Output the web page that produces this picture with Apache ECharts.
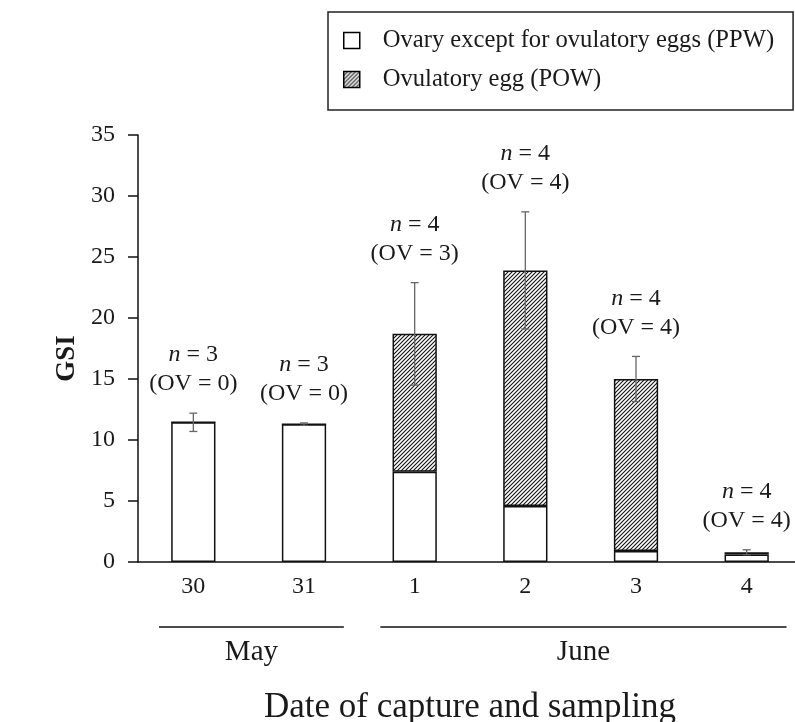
<!DOCTYPE html>
<html>
<head>
<meta charset="utf-8">
<script src="https://cdn.jsdelivr.net/npm/echarts@6/dist/echarts.min.js"></script>
<style>
html,body{margin:0;padding:0;background:#fff;}
#main{width:795px;height:722px;}
</style>
</head>
<body>
<div id="main"></div>
<script>
// ---- data ----
const categories = ['30', '31', '1', '2', '3', '4'];
const ppw = [11.45, 11.3, 7.4, 4.6, 0.9, 0.62];
const pow = [0, 0, 11.3, 19.3, 14.1, 0.18];
const sd = [0.75, 0.1, 4.2, 4.8, 1.85, 0.2];
const nLabels = [3, 3, 4, 4, 4, 4];
const ovLabels = [0, 0, 3, 4, 4, 4];
const months = ['May', 'June'];
const monthStart = [0, 2];
const monthEnd = [1, 5];
const yTicks = { min: 0, max: 35, interval: 5 };

const FONT = "'Liberation Serif', 'Times New Roman', serif";
const TXT = '#1a1a1a';

// hatch pattern
function makeHatch() {
  const s = 4;
  const c = document.createElement('canvas');
  c.width = s; c.height = s;
  const g = c.getContext('2d');
  g.fillStyle = '#fff';
  g.fillRect(0, 0, s, s);
  g.strokeStyle = '#111';
  g.lineWidth = 1.1;
  g.beginPath();
  g.moveTo(0, s); g.lineTo(s, 0);
  g.moveTo(-1, 1); g.lineTo(1, -1);
  g.moveTo(s - 1, s + 1); g.lineTo(s + 1, s - 1);
  g.stroke();
  return c;
}
const hatch = makeHatch();

const chart = echarts.init(document.getElementById('main'), null, { renderer: 'canvas' });

const totals = categories.map((c, i) => ppw[i] + pow[i]);

const option = {
  animation: false,
  backgroundColor: '#fff',
  legend: {
    orient: 'vertical',
    left: 328,
    top: 12,
    padding: [16, 19, 18, 15],
    itemGap: 14,
    itemWidth: 16,
    itemHeight: 16,
    borderColor: '#222',
    borderWidth: 1.5,
    backgroundColor: '#fff',
    icon: 'rect',
    selectedMode: false,
    itemStyle: { borderColor: '#000', borderWidth: 1.5 },
    textStyle: { fontFamily: FONT, fontSize: 24.6, color: TXT, lineHeight: 24, padding: [0, 0, 0, 18] },
    data: ['Ovary except for ovulatory eggs (PPW)', 'Ovulatory egg (POW)']
  },
  grid: { left: 138, right: -7, top: 135, bottom: 160, containLabel: false, outerBoundsMode: 'none' },
  xAxis: {
    type: 'category',
    data: categories,
    axisTick: { show: false },
    axisLine: { show: true, lineStyle: { color: '#111', width: 1.5 } },
    axisLabel: { fontFamily: FONT, fontSize: 24, color: TXT, margin: 13 },
    name: 'Date of capture and sampling',
    nameLocation: 'middle',
    nameGap: 128,
    nameTextStyle: { fontFamily: FONT, fontSize: 35, color: TXT }
  },
  yAxis: {
    type: 'value',
    min: yTicks.min,
    max: yTicks.max,
    interval: yTicks.interval,
    splitLine: { show: false },
    axisLine: { show: true, lineStyle: { color: '#111', width: 1.5 } },
    axisTick: { show: true, length: 10, inside: false, lineStyle: { color: '#111', width: 1.5 } },
    axisLabel: { fontFamily: FONT, fontSize: 24, color: TXT, margin: 23 },
    name: 'GSI',
    nameLocation: 'middle',
    nameGap: 57,
    nameTextStyle: { fontFamily: FONT, fontSize: 27, fontWeight: 'bold', color: TXT, padding: [0, 20, 0, 0] }
  },
  series: [
    {
      name: 'Ovary except for ovulatory eggs (PPW)',
      type: 'bar',
      stack: 'gsi',
      barWidth: '40%',
      data: ppw,
      itemStyle: { color: '#fff', borderColor: '#111', borderWidth: 1.5 }
    },
    {
      name: 'Ovulatory egg (POW)',
      type: 'bar',
      stack: 'gsi',
      barWidth: '40%',
      data: pow,
      itemStyle: { color: { image: hatch, repeat: 'repeat' }, borderColor: '#111', borderWidth: 1.5 }
    },
    {
      type: 'custom',
      z: 5,
      data: categories.map((c, i) => [i, totals[i], sd[i]]),
      encode: { x: 0, y: 1 },
      renderItem: function (params, api) {
        const i = api.value(0), m = api.value(1), s = api.value(2);
        const top = api.coord([i, m + s]);
        const bot = api.coord([i, m - s]);
        const x = top[0];
        const cw = 4;
        const st = { stroke: '#666', lineWidth: 1.3 };
        const idx = params.dataIndex;
        return {
          type: 'group',
          children: [
            { type: 'line', shape: { x1: x, y1: top[1], x2: x, y2: bot[1] }, style: st },
            { type: 'line', shape: { x1: x - cw, y1: top[1], x2: x + cw, y2: top[1] }, style: st },
            { type: 'line', shape: { x1: x - cw, y1: bot[1], x2: x + cw, y2: bot[1] }, style: st },
            {
              type: 'text',
              style: {
                text: '{i|n} = ' + nLabels[idx],
                x: x, y: top[1] - 58,
                align: 'center', verticalAlign: 'middle',
                fontFamily: FONT, fontSize: 24, fill: TXT,
                rich: { i: { fontStyle: 'italic', fontFamily: FONT, fontSize: 24, fill: TXT } }
              }
            },
            {
              type: 'text',
              style: {
                text: '(OV = ' + ovLabels[idx] + ')',
                x: x, y: top[1] - 29,
                align: 'center', verticalAlign: 'middle',
                fontFamily: FONT, fontSize: 24, fill: TXT
              }
            }
          ]
        };
      }
    },
    {
      type: 'custom',
      z: 5,
      clip: false,
      data: months.map((m, k) => [monthStart[k], monthEnd[k], 0]),
      encode: { x: [0, 1], y: 2 },
      renderItem: function (params, api) {
        const k = params.dataIndex;
        const c1 = api.coord([api.value(0), 0]);
        const c2 = api.coord([api.value(1), 0]);
        const band = api.size([1, 0])[0];
        const x1 = c1[0] - 0.31 * band;
        const x2 = c2[0] + 0.36 * band;
        const y = c1[1] + 65;
        return {
          type: 'group',
          children: [
            { type: 'line', shape: { x1: x1, y1: y, x2: x2, y2: y }, style: { stroke: '#111', lineWidth: 1.5 } },
            {
              type: 'text',
              style: {
                text: months[k], x: (x1 + x2) / 2, y: y + 25,
                align: 'center', verticalAlign: 'middle',
                fontFamily: FONT, fontSize: 29, fill: TXT
              }
            }
          ]
        };
      }
    }
  ]
};

chart.setOption(option);
</script>
</body>
</html>
